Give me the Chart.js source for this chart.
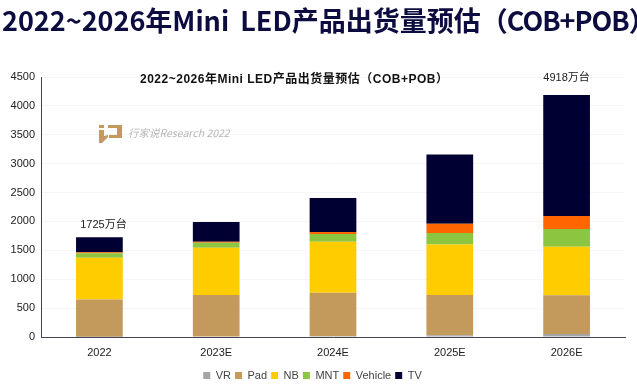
<!DOCTYPE html>
<html>
<head>
<meta charset="utf-8">
<script src="https://cdn.jsdelivr.net/npm/chart.js@4/dist/chart.umd.min.js"></script>
<style>
html, body { margin: 0; padding: 0; background: #fff; overflow: hidden; }
#wrap { position: relative; width: 637px; height: 385px; overflow: hidden; }
#chart { position: absolute; left: 0; top: 0; }
#bigTitle { position: absolute; left: 2px; top: 0; white-space: nowrap; word-spacing: 5px; font: bold 27px "Noto Sans CJK SC", sans-serif; color: #0c0c40; line-height: 40px; }
#bigTitle span { letter-spacing: -1px; }
#innerTitle { position: absolute; left: 140px; top: 71px; white-space: nowrap; letter-spacing: 0.5px; font: bold 12px "Liberation Sans", "Noto Sans CJK SC", sans-serif; color: #111; line-height: 16px; }
#mark { position: absolute; left: 99px; top: 123px; width: 140px; height: 22px; }
#mark svg { position: absolute; left: 0; top: 0; }
#mark .txt { position: absolute; left: 29px; top: 2px; white-space: nowrap; font: italic 10.5px "Noto Sans CJK SC", sans-serif; color: #b5b5b5; line-height: 16px; }
</style>
</head>
<body>
<div id="wrap">
  <canvas id="chart" width="637" height="385"></canvas>
  <div id="bigTitle">2022~2026年Mini LED产品出货量预估<span>（COB+POB）</span></div>
  <div id="innerTitle">2022~2026年Mini LED产品出货量预估（COB+POB）</div>
  <div id="mark">
    <svg width="24" height="22"><path d="M0 2h5v3h-5zM0 7h5v6l4-1v2l-6 6h-3zM9 2h14v13h-13v-3h8v-7h-9z" fill="#c49a5c"/></svg>
    <span class="txt">行家说Research 2022</span>
  </div>
</div>
<script>
var years = ['2022', '2023E', '2024E', '2025E', '2026E'];
var vr = [5, 10, 15, 30, 50];
var pad = [645, 717, 752, 697, 671];
var nb = [722, 818, 883, 876, 841];
var mnt = [78, 87, 132, 197, 306];
var vehicle = [15, 18, 34, 160, 225];
var tv = [260, 340, 589, 1197, 2094];
var totalLabels = ['1725万台', '', '', '', '4918万台'];
var totalGaps = [7, 0, 0, 0, 12];
var totalShift = [4, 0, 0, 0, 0];

function series(label, data, color) {
    return { label: label, data: data, backgroundColor: color, stack: 'a', barPercentage: 0.8, categoryPercentage: 0.5 };
}

// the two total labels above the stacks
var totalsPlugin = {
    id: 'totals',
    afterDatasetsDraw: function (chart) {
        var c = chart.ctx;
        var last = chart.getDatasetMeta(chart.data.datasets.length - 1);
        c.save();
        c.font = '11px "Liberation Sans", "Noto Sans CJK SC", sans-serif';
        c.fillStyle = '#222';
        c.textAlign = 'center';
        c.textBaseline = 'bottom';
        totalLabels.forEach(function (t, i) {
            if (t) c.fillText(t, last.data[i].x + totalShift[i], last.data[i].y - totalGaps[i]);
        });
        c.restore();
    }
};

new Chart(document.getElementById('chart'), {
    type: 'bar',
    plugins: [totalsPlugin],
    data: {
        labels: years,
        datasets: [
            series('VR', vr, '#a5a5a5'),
            series('Pad', pad, '#c49a5c'),
            series('NB', nb, '#ffcc00'),
            series('MNT', mnt, '#8cc540'),
            series('Vehicle', vehicle, '#ff6600'),
            series('TV', tv, '#000033')
        ]
    },
    options: {
        responsive: false,
        animation: false,
        layout: { padding: { left: 0, right: 12, top: 77, bottom: -6 } },
        plugins: {
            tooltip: { enabled: false },
            legend: {
                position: 'bottom',
                labels: {
                    boxWidth: 7, boxHeight: 7, padding: 4,
                    color: '#444',
                    font: { family: '"Liberation Sans", sans-serif', size: 11 }
                }
            }
        },
        scales: {
            x: {
                stacked: true,
                afterFit: function (s) { s.height = 29; },
                grid: { display: false },
                border: { color: '#444459', width: 1 },
                ticks: { color: '#222', font: { family: '"Liberation Sans", sans-serif', size: 11 }, padding: 1, maxRotation: 0 }
            },
            y: {
                stacked: true,
                min: 0,
                max: 4500,
                afterFit: function (s) { s.width = 41; },
                grid: { color: '#f6f6f6', drawTicks: false },
                border: { color: '#444459', width: 1 },
                ticks: {
                    stepSize: 500, color: '#222', padding: 6,
                    font: { family: '"Liberation Sans", sans-serif', size: 11 },
                    callback: function (v) { return String(v); }
                }
            }
        }
    }
});
</script>
</body>
</html>
